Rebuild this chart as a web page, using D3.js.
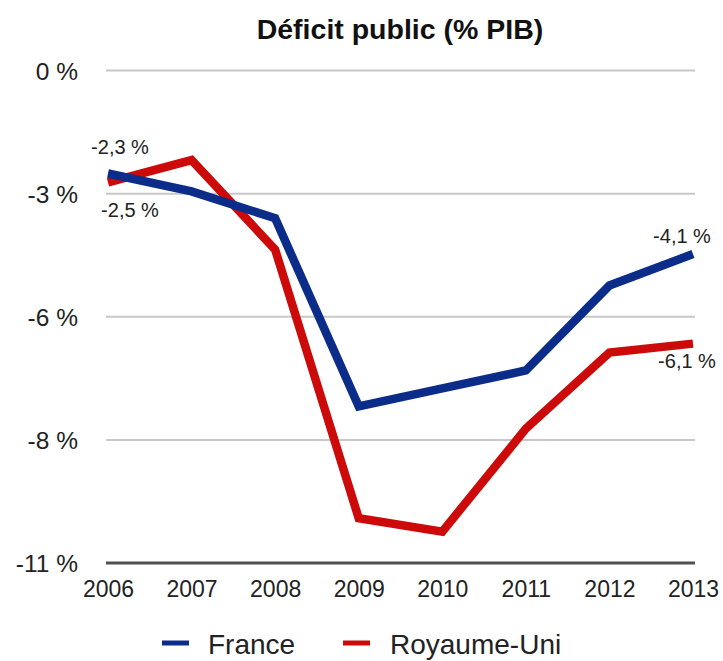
<!DOCTYPE html>
<html>
<head>
<meta charset="utf-8">
<script src="https://cdn.jsdelivr.net/npm/d3@7"></script>
<style>
  html, body { margin: 0; padding: 0; background: #fff; }
  svg { display: block; font-family: "Liberation Sans", Arial, Helvetica, sans-serif; }
</style>
</head>
<body>
<svg id="chart" width="723" height="661"></svg>
<script>
const title = "Déficit public (% PIB)";
const years = ["2006", "2007", "2008", "2009", "2010", "2011", "2012", "2013"];
const seriesNames = ["France", "Royaume-Uni"];
const france = [-2.3, -2.7, -3.3, -7.5, -7.1, -6.7, -4.8, -4.1];
const royaumeUni = [-2.5, -2.0, -4.0, -10.0, -10.3, -8.0, -6.3, -6.1];
const yTickValues = [0, -2.75, -5.5, -8.25, -11];
const yTickLabels = ["0 %", "-3 %", "-6 %", "-8 %", "-11 %"];
const colors = ["#0c2c8a", "#cc0a0a"];

const svg = d3.select("#chart");
const x = d3.scalePoint().domain(years).range([108, 693]);
const y = d3.scaleLinear().domain([-11, 0]).range([563, 70.5]);

// title
svg.append("text")
  .attr("x", 400).attr("y", 39)
  .attr("text-anchor", "middle")
  .attr("font-weight", "bold")
  .attr("font-size", 28.5)
  .attr("fill", "#111")
  .text(title);

// gridlines
svg.append("g").selectAll("line")
  .data(yTickValues)
  .join("line")
  .attr("x1", 106).attr("x2", 695)
  .attr("y1", d => y(d)).attr("y2", d => y(d))
  .attr("stroke", (d, i) => i === yTickValues.length - 1 ? "#505050" : "#c8c8c8")
  .attr("stroke-width", (d, i) => i === yTickValues.length - 1 ? 3 : 2);

// y axis labels
const yAxis = d3.axisLeft(y)
  .tickValues(yTickValues)
  .tickFormat((d, i) => yTickLabels[i])
  .tickSize(0)
  .tickPadding(0);
const gy = svg.append("g").attr("transform", "translate(78,0)").call(yAxis);
gy.select(".domain").remove();
gy.selectAll("text")
  .attr("font-size", 24.5)
  .attr("font-family", "Liberation Sans, Arial, sans-serif")
  .attr("fill", "#222")
  .attr("dy", "0.36em");

// x axis labels
const xAxis = d3.axisBottom(x).tickSize(0).tickPadding(0);
const gx = svg.append("g").attr("transform", "translate(0,580)").call(xAxis);
gx.select(".domain").remove();
gx.selectAll("text")
  .attr("font-size", 23)
  .attr("font-family", "Liberation Sans, Arial, sans-serif")
  .attr("fill", "#222")
  .attr("dy", "0.74em");

// lines
const series = [france, royaumeUni];
const line = d3.line()
  .x((d, i) => x(years[i]))
  .y(d => y(d));
svg.append("path")
  .datum(royaumeUni)
  .attr("d", line)
  .attr("fill", "none")
  .attr("stroke", colors[1])
  .attr("stroke-width", 8.5)
  .attr("stroke-linejoin", "miter");
svg.append("path")
  .datum(france)
  .attr("d", line)
  .attr("fill", "none")
  .attr("stroke", colors[0])
  .attr("stroke-width", 8.5)
  .attr("stroke-linejoin", "miter");

// data labels
const fmt = v => v.toFixed(1).replace(".", ",") + " %";
const labels = [
  { s: 0, i: 0, dx: 12, dy: -19.5 },
  { s: 1, i: 0, dx: 22, dy: 35 },
  { s: 0, i: 7, dx: -11, dy: -11 },
  { s: 1, i: 7, dx: -6, dy: 24.5 }
];
svg.append("g").selectAll("text")
  .data(labels)
  .join("text")
  .attr("x", d => x(years[d.i]) + d.dx)
  .attr("y", d => y(series[d.s][d.i]) + d.dy)
  .attr("text-anchor", "middle")
  .attr("font-size", 20)
  .attr("fill", "#222")
  .text(d => fmt(series[d.s][d.i]));

// legend
const legendItems = [
  { name: seriesNames[0], color: colors[0], x0: 162, tx: 208 },
  { name: seriesNames[1], color: colors[1], x0: 343, tx: 390 }
];
const lg = svg.append("g");
legendItems.forEach(it => {
  lg.append("line")
    .attr("x1", it.x0).attr("x2", it.x0 + 27)
    .attr("y1", 643).attr("y2", 643)
    .attr("stroke", it.color).attr("stroke-width", 5);
  lg.append("text")
    .attr("x", it.tx).attr("y", 654)
    .attr("font-size", 28)
    .attr("fill", "#222")
    .text(it.name);
});
</script>
</body>
</html>
